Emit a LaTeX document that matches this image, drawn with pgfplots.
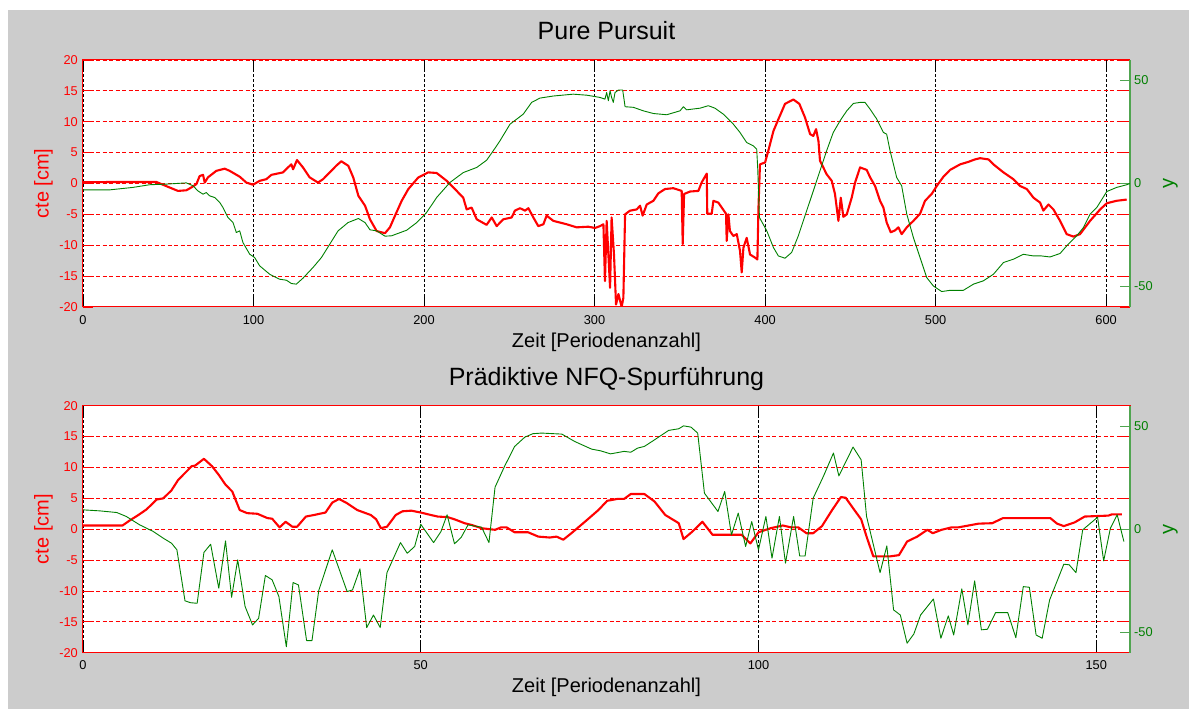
\documentclass[border=0pt]{standalone}
\usepackage{fontspec}
\setmainfont{Liberation Sans}
\usepackage{pgfplots}
\pgfplotsset{compat=1.18}

\definecolor{bggray}{RGB}{204,204,204}
\definecolor{ygreen}{RGB}{0,128,0}
\definecolor{ygreenaxis}{RGB}{80,165,80}
\definecolor{framegray}{RGB}{70,70,70}

\pgfplotsset{
  panel/.style={
    scale only axis, width=1047pt, height=247pt, anchor=south west,
    xmin=0,
    /pgf/number format/assume math mode=true,
    tick align=inside, major tick length=10pt,
    ticklabel style={font=\fontsize{12.8}{14}\selectfont},
    title style={font=\fontsize{25}{30}\selectfont, at={(axis description cs:0.5,1)},
      anchor=base, yshift=14pt, inner sep=0pt},
    xlabel style={font=\fontsize{20}{24}\selectfont, at={(axis description cs:0.5,-0.162)},
      anchor=base, inner sep=0pt},
  },
  cteaxis/.style={panel,
    axis background/.style={fill=white},
    ymin=-20, ymax=20, ytick={-15,-10,...,20},
    extra y ticks={-20}, extra y tick style={grid=none},
    grid=major,
    x grid style={black, dash pattern=on 3pt off 2pt, line width=0.8pt},
    y grid style={red, dash pattern=on 4pt off 2.5pt, line width=0.8pt},
    x axis line style={framegray, line width=1.2pt},
    y axis line style={red, line width=1pt},
    xtick style={black, line width=0.8pt},
    ytick style={red, line width=0.8pt},
    yticklabel style={red, anchor=east, inner sep=0pt, xshift=-5pt},
    xticklabel style={black, anchor=north, inner sep=0pt, yshift=-8pt},
    ylabel={cte [cm]},
    ylabel style={red, font=\fontsize{20}{24}\selectfont,
      at={(axis description cs:-0.0287,0.5)}, anchor=south, inner sep=0pt},
    xlabel={Zeit [Periodenanzahl]},
  },
  yaxis/.style={panel,
    axis x line=none, axis y line*=right, tick align=inside,
    ymin=-60, ymax=60, ytick={-50,0,50},
    y axis line style={ygreenaxis, line width=1.2pt},
    ytick style={ygreenaxis, line width=0.8pt},
    yticklabel style={ygreen, anchor=west, inner sep=0pt, xshift=4pt},
    ylabel={y},
    ylabel style={ygreen, font=\fontsize{20}{24}\selectfont,
      at={(axis description cs:1.0315,0.5)}, anchor=north, inner sep=0pt},
  },
  ctestyle/.style={red, line width=2.1pt, line join=round},
  ystyle/.style={ygreen, line width=0.9pt, line join=round},
}

\begin{document}
\begin{tikzpicture}
\fill[white] (0,0) rectangle (1189pt,709pt);
\fill[bggray] (8pt,0) rectangle (1189pt,699pt);

% ---------------- Pure Pursuit ----------------
\begin{axis}[cteaxis, at={(83pt,402pt)}, xmax=614, xtick={0,100,...,600},
  title={Pure Pursuit}]
\addplot[ctestyle] coordinates {
(0,0.2) (20,0.25) (43,0.25) (46.9,-0.2) (50.8,-0.65) (55.7,-1.2) (60.6,-1.1)
(63.5,-0.65) (66.5,-0.1) (68.4,1.2) (70.4,1.4) (71.4,0.15) (73.3,1.0) (78.2,2.05)
(83.1,2.4) (86.0,2.05) (91.9,1.1) (95.8,0.15) (99.7,-0.2) (103.6,0.43) (107.5,0.7)
(110.5,1.4) (117.3,1.8) (120.2,2.6) (122.2,3.1) (123.2,2.3) (125.5,3.8) (129.0,2.6)
(132.9,1.0) (137.8,0.15) (140.8,0.7) (144.7,1.8) (148.6,2.9) (151.5,3.6) (155.6,2.86)
(158.5,0.97) (161.5,-2.0) (165.4,-3.6) (168.3,-5.8) (172.2,-7.7) (177.1,-8.05)
(180.0,-7.1) (183.0,-5.2) (186.9,-2.8) (190.8,-0.9) (196.6,0.97) (202.5,1.8)
(207.4,1.7) (213.3,0.43) (218.1,-0.9) (223.0,-2.3) (225.0,-4.2) (227.9,-3.9)
(230.9,-5.8) (236.7,-6.7) (239.7,-5.5) (242.6,-6.9) (246.5,-5.8) (251.4,-5.5)
(253.3,-4.4) (256.3,-4.0) (259.2,-4.4) (261.2,-4.0) (264.1,-5.5) (267.0,-6.9)
(270.0,-6.6) (271.9,-5.2) (275.8,-6.05) (283.6,-6.6) (289.5,-7.1) (296.3,-7.0)
(300.3,-7.2) (303.2,-6.9) (305.2,-6.6) (306.1,-15.8) (307.1,-6.05) (309.1,-16.9)
(310.0,-5.5) (311.4,-11.5) (312.6,-19.6) (314.0,-17.9) (315.9,-20) (316.9,-18.5)
(317.9,-5.0) (320.8,-4.4) (324.7,-4.2) (326.7,-3.6) (328.2,-5.2) (330.6,-3.4)
(334.5,-2.8) (337.4,-1.6) (341.3,-0.9) (346.2,-0.76) (351.1,-1.2) (351.7,-9.8)
(352.5,-1.7) (356.0,-1.3) (360.9,-1.2) (362.8,0.16) (365.8,1.6) (366.1,-4.9)
(368.7,-4.9) (369.7,-2.8) (372.6,-3.1) (374.6,-3.9) (377.1,-4.9) (377.5,-9.3)
(378.5,-5.0) (379.4,-7.7) (381.4,-8.5) (383.4,-8.2) (385.3,-10.9) (386.3,-14.4)
(387.3,-10.4) (389.2,-8.8) (391.2,-11.5) (394.1,-12.0) (395.5,-12.3) (396.1,-4.2)
(397.0,3.1) (400.0,3.4) (401.9,5.3) (404.9,8.5) (407.8,10.4) (411.7,12.9)
(416.6,13.6) (420.1,12.9) (423.4,10.7) (426.4,8.0) (428.3,7.7) (429.9,8.8)
(431.3,6.9) (432.2,3.7) (436.1,1.5) (439.1,0.43) (441.0,-1.7) (443.0,-6.05)
(444.4,-2.3) (445.9,-5.4) (447.9,-5.0) (450.8,-2.3) (452.8,0.16) (455.7,2.6)
(459.6,2.2) (461.6,1.0) (464.5,-0.4) (467.4,-2.8) (469.4,-3.9) (471.3,-6.3)
(473.7,-7.9) (476.2,-7.6) (478.2,-7.1) (480.1,-8.2) (483.1,-7.1) (487.0,-6.05)
(490.9,-4.9) (493.8,-2.8) (497.7,-1.7) (500.7,-0.4) (504.6,1.1) (508.5,2.2)
(514.4,3.1) (519.2,3.5) (523.1,3.9) (526.1,4.1) (531.0,3.9) (533.9,3.1)
(539.8,1.8) (545.6,0.7) (549.5,-0.4) (553.5,-0.9) (557.4,-2.3) (561.3,-3.1)
(563.2,-4.4) (566.2,-3.4) (569.1,-4.2) (573.0,-6.05) (576.9,-8.2) (580.8,-8.6)
(584.7,-8.2) (590.6,-6.05) (596.5,-4.2) (600.4,-3.2) (606.2,-2.8) (612.1,-2.6)
};
\end{axis}
\begin{axis}[yaxis, at={(83pt,402pt)}, xmax=614]
\addplot[ystyle] coordinates {
(0,-3.1) (15.6,-3.1) (29.3,-1.9) (39.1,-0.6) (48.9,-0.3) (60.6,0.3) (64.5,-1.1)
(67.4,-3.6) (70.4,-5.2) (72.3,-4.4) (74.3,-6.0) (77.2,-6.8) (80.2,-9.2) (82.1,-11.7)
(85.0,-16.5) (88.0,-19.0) (89.9,-23.8) (91.9,-23.0) (93.8,-28.7) (97.8,-34.4)
(100.7,-36.0) (103.6,-40.0) (109.5,-44.1) (115.3,-46.5) (119.3,-47.0) (122.2,-48.6)
(125.1,-48.9) (129.0,-46.0) (134.9,-40.8) (139.8,-36.0) (144.7,-29.5) (149.6,-23.0)
(155.4,-19.0) (161.5,-17.0) (165.4,-19.0) (168.3,-22.5) (172.2,-23.0) (177.1,-25.6)
(181.0,-25.4) (189.8,-22.7) (195.7,-19.0) (201.5,-14.1) (207.4,-6.8) (215.2,0.5)
(223.0,5.3) (230.9,7.8) (236.7,11.3) (240.6,15.9) (244.5,20.7) (250.4,28.8)
(258.2,33.7) (263.1,39.4) (268.0,41.5) (275.8,42.5) (287.5,43.4) (295.4,42.9)
(301.2,42.1) (303.2,41.8) (306.1,41.0) (307.1,44.2) (308.1,40.2) (309.1,45.1)
(310.0,41.8) (311.0,39.4) (312.0,44.2) (314.0,45.4) (316.5,45.4) (317.9,37.3)
(322.8,37.0) (328.6,35.3) (334.5,34.0) (342.3,33.4) (350.1,35.3) (352.1,37.3)
(354.0,35.8) (361.9,36.6) (366.7,37.8) (370.6,36.6) (375.5,33.7) (381.4,28.8)
(385.3,24.8) (389.2,19.9) (393.1,18.3) (395.1,16.7) (395.7,7.0) (396.7,-16.5)
(401.0,-23.0) (404.9,-31.1) (407.8,-35.2) (411.7,-36.3) (415.6,-33.5) (419.5,-25.4)
(423.4,-15.7) (428.3,-3.6) (432.2,6.2) (436.1,15.9) (440.0,24.8) (444.0,30.5)
(447.9,35.3) (451.8,38.9) (455.7,39.4) (458.6,39.4) (461.6,36.1) (465.5,31.3)
(469.4,24.8) (471.3,24.0) (473.3,15.9) (477.2,2.9) (480.1,-1.1) (483.1,-14.9)
(487.0,-26.3) (490.9,-36.0) (494.8,-45.7) (498.7,-49.8) (503.6,-52.5) (508.5,-51.9)
(516.3,-51.9) (522.2,-48.9) (528.0,-47.3) (533.9,-44.1) (539.8,-38.4) (545.6,-36.8)
(551.5,-34.4) (557.4,-35.2) (562.2,-35.2) (567.1,-35.7) (573.0,-34.0) (576.9,-30.3)
(582.8,-25.4) (586.7,-21.4) (590.6,-14.9) (594.5,-11.7) (600.4,-3.9) (606.2,-1.9)
(612.1,-0.6) (614,0)
};
\end{axis}

% ---------------- Prädiktive NFQ-Spurführung ----------------
\begin{axis}[cteaxis, at={(83pt,56.3pt)}, xmax=155, xtick={0,50,100,150},
  title={Prädiktive NFQ-Spurführung}]
\addplot[ctestyle] coordinates {
(0,0.6) (5.85,0.6) (6.9,1.4) (8.2,2.3) (9.4,3.2) (10.9,4.8) (11.9,5.0) (13.1,6.3)
(14.1,8.0) (15.1,9.1) (16.1,10.2) (16.6,10.3) (17.9,11.4) (19.1,10.2) (20.1,8.8)
(21.1,7.2) (22.1,6.1) (23.2,3.1) (24.3,2.6) (25.8,2.5) (27.3,1.8) (28.0,1.7)
(29.1,0.3) (30.0,1.2) (31.0,0.4) (31.7,0.4) (33.0,2.05) (34.2,2.3) (35.9,2.7)
(36.9,4.3) (37.9,4.9) (39.1,4.2) (40.6,3.1) (42.6,2.3) (43.4,1.6) (44.1,0.16)
(45.0,0.4) (46.3,2.3) (47.3,2.9) (48.6,3.0) (50.0,2.7) (51.5,2.3) (52.5,2.05)
(54.0,1.95) (55.0,1.6) (56.5,0.97) (57.5,0.7) (59.0,0.16) (61.0,-0.1) (61.9,0.3)
(62.7,0.3) (63.9,-0.5) (65.9,-0.5) (67.4,-1.2) (69.1,-1.35) (70.1,-1.2) (71.1,-1.7)
(72.3,-0.65) (74.3,1.2) (76.3,3.1) (77.6,4.6) (79.1,4.9) (80.1,4.9) (81.1,5.7)
(83.1,5.7) (84.6,4.5) (86.2,2.3) (88.2,0.97) (88.9,-1.6) (90.2,-0.4) (91.7,1.2)
(93.2,-0.9) (95.2,-0.9) (97.5,-0.9) (98.8,-2.3) (100.0,-0.5) (101.8,0.16)
(103.6,0.6) (104.8,0.3) (105.9,0.3) (107.1,-0.65) (108.1,-0.65) (109.4,0.5)
(110.9,3.1) (112.2,5.2) (112.9,5.1) (114.2,3.1) (115.2,1.6) (116.0,-1.2)
(117.0,-4.4) (119.5,-4.4) (120.8,-4.2) (122.0,-2.0) (123.5,-1.2) (125.0,-0.1)
(125.8,-0.65) (127.1,-0.1) (128.6,0.3) (129.6,0.3) (131.1,0.6) (132.6,0.9)
(134.6,0.97) (136.2,1.8) (143.2,1.8) (144.2,0.9) (145.2,0.5) (146.8,1.1)
(148.3,2.05) (151.8,2.2) (152.3,2.4) (153.8,2.4)
};
\end{axis}
\begin{axis}[yaxis, at={(83pt,56.3pt)}, xmax=155]
\addplot[ystyle] coordinates {
(0,9.4) (2.5,8.9) (5.0,8.1) (6.4,6.2) (8.4,2.1) (10.4,-1.1) (11.9,-4.4) (13.1,-6.8)
(13.9,-10.0) (15.1,-34.8) (15.9,-35.7) (16.9,-36.0) (17.9,-11.3) (18.9,-7.3)
(20.1,-28.7) (21.1,-5.7) (22.0,-33.1) (22.9,-14.9) (24.0,-37.6) (25.1,-46.5)
(26.0,-43.3) (27.0,-22.5) (28.0,-24.6) (29.0,-32.7) (30.1,-57.1) (31.1,-25.9)
(31.9,-27.1) (33.1,-54.1) (33.9,-54.1) (34.9,-29.8) (36.9,-10.0) (39.1,-30.3)
(39.9,-29.5) (41.0,-19.3) (42.0,-47.8) (43.0,-41.7) (44.0,-47.8) (45.0,-21.1)
(47.0,-6.5) (48.0,-11.7) (49.1,-8.4) (50.0,2.4) (51.9,-6.5) (53.0,-1.1) (53.9,7.0)
(55.0,-7.1) (56.0,-3.9) (57.0,2.1) (59.0,1.0) (60.1,-6.5) (61.0,20.4) (62.4,30.5)
(63.9,40.2) (65.4,44.7) (66.6,46.4) (67.9,46.7) (70.9,46.2) (72.8,42.6) (75.3,38.9)
(76.6,38.1) (78.1,36.6) (80.1,37.8) (81.1,37.4) (82.1,39.4) (83.1,40.2) (84.6,43.4)
(86.7,48.0) (88.2,48.8) (88.9,50.2) (90.0,49.6) (91.0,46.7) (92.0,17.5) (94.0,8.6)
(95.0,18.3) (96.0,-2.8) (97.0,7.8) (98.1,-8.4) (99.0,3.7) (100.0,-10.0) (101.1,6.2)
(102.0,-14.1) (103.1,6.2) (104.0,-16.5) (105.2,6.2) (106.1,-13.0) (106.9,-13.0)
(108.1,15.1) (109.6,25.6) (111.1,37.0) (111.9,25.9) (114.0,39.9) (115.2,33.7)
(116.0,6.2) (118.0,-21.1) (119.0,-8.1) (120.0,-39.2) (121.0,-41.7) (122.0,-55.4)
(123.0,-50.9) (124.0,-41.7) (125.9,-33.9) (127.0,-53.0) (128.1,-42.1) (128.9,-51.4)
(130.1,-29.0) (131.0,-46.5) (132.0,-25.1) (133.0,-48.9) (133.9,-48.6) (135.1,-40.5)
(136.9,-40.5) (138.1,-52.7) (139.2,-27.9) (140.1,-28.2) (141.1,-51.4) (142.0,-53.0)
(143.1,-34.4) (145.2,-17.0) (146.0,-17.3) (147.0,-21.1) (148.0,-0.3) (150.2,5.8)
(151.1,-15.4) (152.1,0.5) (153.1,7.0) (154.1,-6.0)
};
\end{axis}
\end{tikzpicture}
\end{document}
